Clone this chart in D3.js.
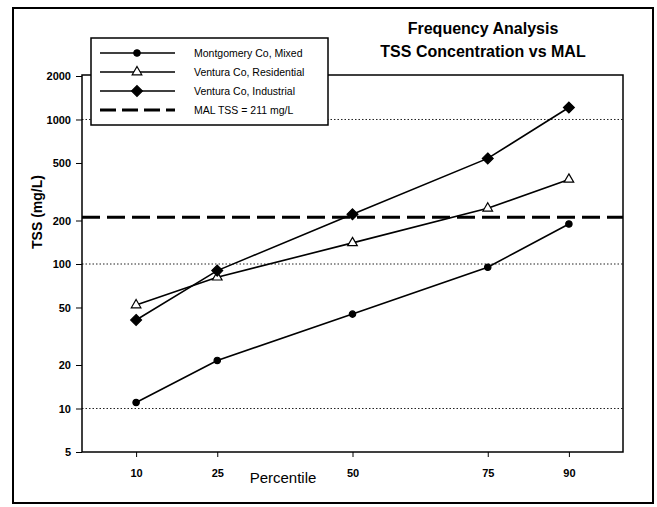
<!DOCTYPE html>
<html>
<head>
<meta charset="utf-8">
<script src="https://d3js.org/d3.v7.min.js"></script>
<style>
  body { margin: 0; background: #fff; }
  svg { font-family: "Liberation Sans", Arial, sans-serif; }
  .tick text { font-size: 11px; font-weight: bold; }
  .legend text { font-size: 10.5px; }
</style>
</head>
<body>
<svg width="657" height="507"></svg>
<script>
// Data
var percentiles = [10, 25, 50, 75, 90];
var montgomery = [11, 21.5, 45, 95, 189];
var venturaRes = [52, 81, 140, 243, 385];
var venturaInd = [41, 90, 221, 538, 1210];
var mal = 211;
var yTicks = [5, 10, 20, 50, 100, 200, 500, 1000, 2000];
var gridValues = [10, 100, 1000];
var seriesNames = ["Montgomery Co, Mixed", "Ventura Co, Residential", "Ventura Co, Industrial", "MAL TSS = 211 mg/L"];

var svg = d3.select("svg");

// Outer frame
svg.append("rect")
    .attr("x", 13).attr("y", 8)
    .attr("width", 640).attr("height", 495)
    .attr("fill", "none").attr("stroke", "#000").attr("stroke-width", 2);

// Plot area (avoid the name "top": it is window.top)
var plotL = 82, plotR = 623, plotT = 76, plotB = 452;

var x = d3.scaleLinear().domain([0, 100]).range([plotL, plotR]);
var y = d3.scaleLog().domain([5, 2000]).range([plotB, plotT]);

// grid lines
svg.append("g").selectAll("line")
    .data(gridValues)
    .enter().append("line")
    .attr("x1", plotL).attr("x2", plotR)
    .attr("y1", d => y(d)).attr("y2", d => y(d))
    .attr("stroke", "#222").attr("stroke-width", 1)
    .attr("stroke-dasharray", "1.5,2");

// Plot frame
svg.append("rect")
    .attr("x", plotL).attr("y", plotT - 1)
    .attr("width", plotR - plotL).attr("height", plotB - plotT + 1)
    .attr("fill", "none").attr("stroke", "#000").attr("stroke-width", 1.5);

// Axes
svg.append("g")
    .attr("transform", "translate(0," + plotB + ")")
    .call(d3.axisBottom(x).tickValues(percentiles).tickSize(5).tickPadding(12).tickFormat(d3.format("d")))
    .call(g => g.select(".domain").remove());

svg.append("g")
    .attr("transform", "translate(" + plotL + ",0)")
    .call(d3.axisLeft(y).tickValues(yTicks).tickSize(6).tickPadding(5).tickFormat(d3.format("d")))
    .call(g => g.select(".domain").remove());

// MAL line
svg.append("line")
    .attr("x1", plotL).attr("x2", plotR)
    .attr("y1", y(mal)).attr("y2", y(mal))
    .attr("stroke", "#000").attr("stroke-width", 3)
    .attr("stroke-dasharray", "18,7");

var line = d3.line()
    .x((d, i) => x(percentiles[i]))
    .y(d => y(d));

function drawSeries(vals, symbolType, size, fill) {
  svg.append("path")
      .datum(vals)
      .attr("d", line)
      .attr("fill", "none").attr("stroke", "#000").attr("stroke-width", 1.6);
  svg.append("g").selectAll("path")
      .data(vals)
      .enter().append("path")
      .attr("transform", (d, i) => "translate(" + x(percentiles[i]) + "," + y(d) + ")")
      .attr("d", d3.symbol().type(symbolType).size(size))
      .attr("fill", fill).attr("stroke", "#000").attr("stroke-width", 1.2);
}

drawSeries(montgomery, d3.symbolCircle, 32, "#000");
drawSeries(venturaRes, d3.symbolTriangle, 40, "#fff");
drawSeries(venturaInd, d3.symbolDiamond2, 75, "#000");

// Axis labels
svg.append("text")
    .attr("x", 283).attr("y", 483)
    .attr("text-anchor", "middle")
    .attr("font-size", 15)
    .text("Percentile");

svg.append("text")
    .attr("transform", "translate(42,212) rotate(-90)")
    .attr("text-anchor", "middle")
    .attr("font-size", 14)
    .attr("font-weight", "bold")
    .text("TSS (mg/L)");

// Title
svg.append("text")
    .attr("x", 483).attr("y", 34)
    .attr("text-anchor", "middle")
    .attr("font-size", 16).attr("font-weight", "bold")
    .text("Frequency Analysis");
svg.append("text")
    .attr("x", 483).attr("y", 57)
    .attr("text-anchor", "middle")
    .attr("font-size", 16).attr("font-weight", "bold")
    .text("TSS Concentration vs MAL");

// Legend
var lg = svg.append("g").attr("class", "legend");
lg.append("rect")
    .attr("x", 91).attr("y", 38)
    .attr("width", 237).attr("height", 87)
    .attr("fill", "#fff").attr("stroke", "#000").attr("stroke-width", 1.5);

var legendSym = [
  {type: d3.symbolCircle, size: 32, fill: "#000", dash: null, w: 1.6},
  {type: d3.symbolTriangle, size: 40, fill: "#fff", dash: null, w: 1.6},
  {type: d3.symbolDiamond2, size: 75, fill: "#000", dash: null, w: 1.6},
  {type: null, dash: "16,6", w: 3}
];
seriesNames.forEach(function (name, i) {
  var yy = 53 + i * 19;
  lg.append("line")
      .attr("x1", 100).attr("x2", 175)
      .attr("y1", yy).attr("y2", yy)
      .attr("stroke", "#000").attr("stroke-width", legendSym[i].w)
      .attr("stroke-dasharray", legendSym[i].dash);
  if (legendSym[i].type) {
    lg.append("path")
        .attr("transform", "translate(137," + yy + ")")
        .attr("d", d3.symbol().type(legendSym[i].type).size(legendSym[i].size))
        .attr("fill", legendSym[i].fill).attr("stroke", "#000").attr("stroke-width", 1.2);
  }
  lg.append("text")
      .attr("x", 194).attr("y", yy + 4)
      .text(name);
});
</script>
</body>
</html>
